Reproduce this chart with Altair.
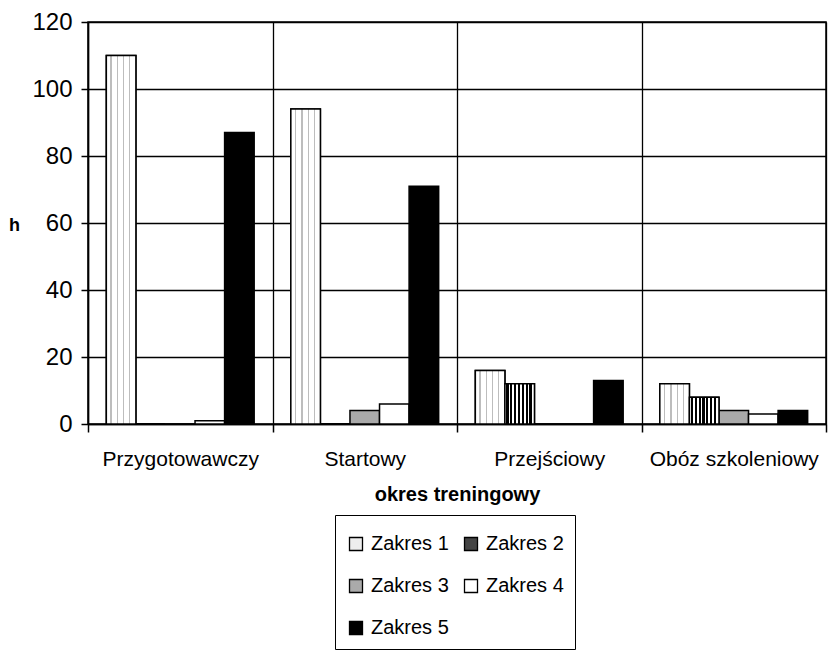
import altair as alt
import pandas as pd

okresy = ["Przygotowawczy", "Startowy", "Przejściowy", "Obóz szkoleniowy"]
zakresy = ["Zakres 1", "Zakres 2", "Zakres 3", "Zakres 4", "Zakres 5"]
zakres_1 = [110, 94, 16, 12]
zakres_2 = [0, 0, 12, 8]
zakres_3 = [0, 4, 0, 4]
zakres_4 = [1, 6, 0, 3]
zakres_5 = [87, 71, 13, 4]
y_ticks = [0, 20, 40, 60, 80, 100, 120]

series = [zakres_1, zakres_2, zakres_3, zakres_4, zakres_5]
rows = []
for name, vals in zip(zakresy, series):
    for okres, v in zip(okresy, vals):
        rows.append({"okres": okres, "zakres": name, "h": v})
df = pd.DataFrame(rows)

FONT = "Liberation Sans"
legend_fills = ["#eeeeee", "#444444", "#aaaaaa", "#ffffff", "#000000"]

# stripe / dot style fills (styling only)
def stripes(positions, width, color):
    stops = [alt.GradientStop(offset=0, color="white")]
    for p in positions:
        stops += [
            alt.GradientStop(offset=p, color="white"),
            alt.GradientStop(offset=p, color=color),
            alt.GradientStop(offset=p + width, color=color),
            alt.GradientStop(offset=p + width, color="white"),
        ]
    stops.append(alt.GradientStop(offset=1, color="white"))
    return alt.LinearGradient(gradient="linear", stops=stops, x1=0, x2=1, y1=0, y2=0)

dots_fill = stripes([0.14, 0.36, 0.57, 0.77], 0.035, "#bdbdbd")
vert_fill = stripes([0.05 + i * 0.13 for i in range(7)], 0.075, "black")

x_enc = alt.X(
    "okres:N",
    sort=okresy,
    scale=alt.Scale(paddingInner=0, paddingOuter=0),
    axis=alt.Axis(
        title="okres treningowy",
        labelAngle=0,
        labelFontSize=21,
        labelFont=FONT,
        labelColor="black",
        labelBaseline="alphabetic",
        labelPadding=33,
        tickBand="extent",
        tickSize=8,
        tickColor="black",
        tickWidth=1.5,
        domainColor="black",
        domainWidth=1.5,
        grid=True,
        gridColor="black",
        gridWidth=1.3,
        gridOpacity=1,
        titleFont=FONT,
        titleFontSize=20,
        titleFontWeight="bold",
        titleColor="black",
        titleX=369,
        titleY=76,
        titleBaseline="alphabetic",
        titleAlign="center",
    ),
)
y_enc = alt.Y(
    "h:Q",
    scale=alt.Scale(domain=[0, 120], nice=False),
    axis=alt.Axis(
        values=y_ticks,
        title="h",
        titleAngle=0,
        titleX=-74,
        titleY=203,
        titleAlign="center",
        titleBaseline="middle",
        titleFont=FONT,
        titleFontSize=18,
        titleFontWeight="bold",
        titleColor="black",
        labelFont=FONT,
        labelFontSize=24,
        labelColor="black",
        labelPadding=9,
        tickSize=7,
        tickColor="black",
        tickWidth=1.5,
        domainColor="black",
        domainWidth=1.5,
        grid=True,
        gridColor="black",
        gridWidth=1.3,
        gridOpacity=1,
    ),
)
xoff = alt.XOffset(
    "zakres:N",
    sort=zakresy,
    scale=alt.Scale(domain=zakresy, paddingInner=0, paddingOuter=0.62),
)

base = alt.Chart(df).mark_bar(stroke="black", strokeWidth=1.5).encode(
    x=x_enc,
    y=y_enc,
    xOffset=xoff,
    fill=alt.Fill(
        "zakres:N",
        sort=zakresy,
        scale=alt.Scale(domain=zakresy, range=legend_fills),
        legend=alt.Legend(
            title=" ",
            titleFontSize=8,
            titlePadding=0,
            orient="none",
            legendX=247,
            legendY=493,
            columns=2,
            direction="horizontal",
            symbolType="square",
            symbolSize=169,
            symbolStrokeColor="black",
            symbolStrokeWidth=1.3,
            labelFont=FONT,
            labelFontSize=20,
            labelColor="black",
            labelOffset=5,
            rowPadding=22,
            columnPadding=12,
            padding=11,
            strokeColor="black",
            fillColor="white",
        ),
    ),
)

z1 = alt.Chart(df).transform_filter(alt.datum.zakres == "Zakres 1").mark_bar(
    stroke="black", strokeWidth=1.5, fill=dots_fill
).encode(x=alt.X("okres:N", sort=okresy), y="h:Q", xOffset=alt.XOffset("zakres:N", sort=zakresy))

z2 = alt.Chart(df).transform_filter(alt.datum.zakres == "Zakres 2").mark_bar(
    stroke="black", strokeWidth=1.5, fill=vert_fill
).encode(x=alt.X("okres:N", sort=okresy), y="h:Q", xOffset=alt.XOffset("zakres:N", sort=zakresy))

chart = (
    alt.layer(base, z1, z2)
    .properties(
        width=738,
        height=402,
        padding={"left": 88, "top": 22, "right": 4, "bottom": 233},
        autosize=alt.AutoSizeParams(type="none"),
        background="white",
    )
    .configure_view(stroke="black", strokeWidth=1.5)
)

chart.save("out.html", embed_options={"renderer": "svg", "actions": False})
